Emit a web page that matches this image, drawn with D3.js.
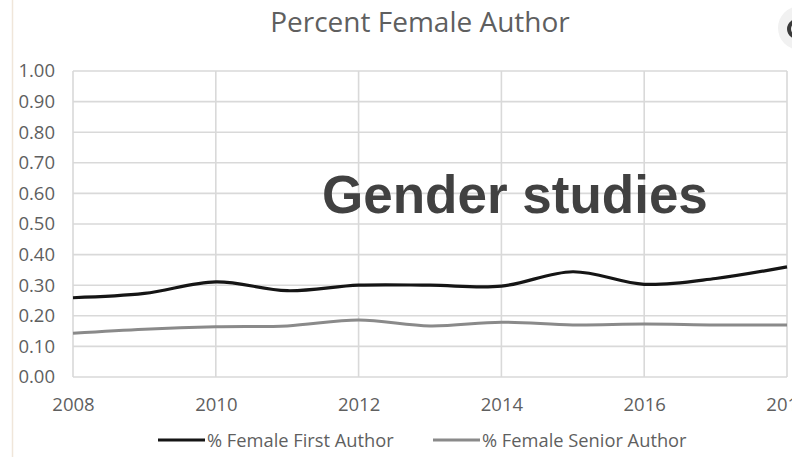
<!DOCTYPE html>
<html><head><meta charset="utf-8">
<script src="https://cdn.jsdelivr.net/npm/d3@7"></script>
<style>body{margin:0;background:#fff;}svg{display:block;}</style>
</head><body>
<svg id="c" width="792" height="457"></svg>
<script>
const years = [2008,2009,2010,2011,2012,2013,2014,2015,2016,2017,2018];
const firstAuthor  = [0.259,0.273,0.311,0.282,0.300,0.300,0.297,0.344,0.303,0.322,0.360];
const seniorAuthor = [0.143,0.156,0.164,0.167,0.186,0.167,0.179,0.170,0.173,0.170,0.170];
const yTicks = [0,0.1,0.2,0.3,0.4,0.5,0.6,0.7,0.8,0.9,1.0];
const xTicks = [2008,2010,2012,2014,2016,2018];
const seriesNames = ["% Female First Author","% Female Senior Author"];

const svg = d3.select("#c");
const x = d3.scaleLinear().domain([2008,2018]).range([73,787]);
const y = d3.scaleLinear().domain([0,1]).range([377,71]);
const txt = "#5f5f5f";
const font = "'Open Sans', sans-serif";

// left faint border
svg.append("line").attr("x1",12.5).attr("x2",12.5).attr("y1",0).attr("y2",457)
  .attr("stroke","#f0e6da").attr("stroke-width",1.5);

// gridlines
svg.append("g").selectAll("line").data(yTicks).join("line")
  .attr("x1",x(2008)).attr("x2",x(2018)).attr("y1",d=>y(d)).attr("y2",d=>y(d))
  .attr("stroke","#d9d9d9").attr("stroke-width",1.6);
svg.append("g").selectAll("line").data(xTicks).join("line")
  .attr("x1",d=>x(d)).attr("x2",d=>x(d)).attr("y1",y(0)).attr("y2",y(1))
  .attr("stroke","#d9d9d9").attr("stroke-width",1.6);

// axes labels
const yAxis = d3.axisLeft(y).tickValues(yTicks).tickFormat(d3.format(".2f")).tickSize(0).tickPadding(18);
const gy = svg.append("g").attr("transform",`translate(${x(2008)},0)`).call(yAxis);
gy.select(".domain").remove();
gy.selectAll("text").attr("fill",txt).style("font-family",font).style("font-size","18.5px");

const xAxis = d3.axisBottom(x).tickValues(xTicks).tickFormat(d3.format("d")).tickSize(0).tickPadding(21);
const gx = svg.append("g").attr("transform",`translate(0,${y(0)})`).call(xAxis);
gx.select(".domain").remove();
gx.selectAll("text").attr("fill",txt).style("font-family",font).style("font-size","18.5px");

// lines
const line = d3.line().x((d,i)=>x(years[i])).y(d=>y(d)).curve(d3.curveCardinal.tension(0));
svg.append("path").datum(seniorAuthor).attr("d",line).attr("fill","none")
  .attr("stroke","#8a8a8a").attr("stroke-width",3);
svg.append("path").datum(firstAuthor).attr("d",line).attr("fill","none")
  .attr("stroke","#151515").attr("stroke-width",3.2);

// title
svg.append("text").attr("x",420).attr("y",32).attr("text-anchor","middle")
  .attr("fill",txt).style("font-family",font).style("font-size","28px").text("Percent Female Author");

// overlay label
svg.append("text").attr("x",322).attr("y",213)
  .attr("fill","#414141").style("font-family","'Liberation Sans', Arial, sans-serif")
  .style("font-weight","bold").style("font-size","53px").text("Gender studies");

// legend
const leg = [{x:158,c:"#151515"},{x:433,c:"#8a8a8a"}];
leg.forEach((l,i)=>{
  svg.append("line").attr("x1",l.x).attr("x2",l.x+47).attr("y1",440).attr("y2",440)
    .attr("stroke",l.c).attr("stroke-width",3.2);
  svg.append("text").attr("x",l.x+49).attr("y",447).attr("fill",txt)
    .style("font-family",font).style("font-size","18.3px").text(seriesNames[i]);
});

// top-right icon fragment (drawn as a shape)
svg.append("circle").attr("cx",800).attr("cy",28).attr("r",22).attr("fill","#f1f1f1");
svg.append("path").attr("d",d3.arc()({innerRadius:6,outerRadius:10,startAngle:Math.PI*0.9,endAngle:Math.PI*2.1}))
  .attr("transform","translate(797,29)").attr("fill","#3a3a3a");
</script>
</body></html>
